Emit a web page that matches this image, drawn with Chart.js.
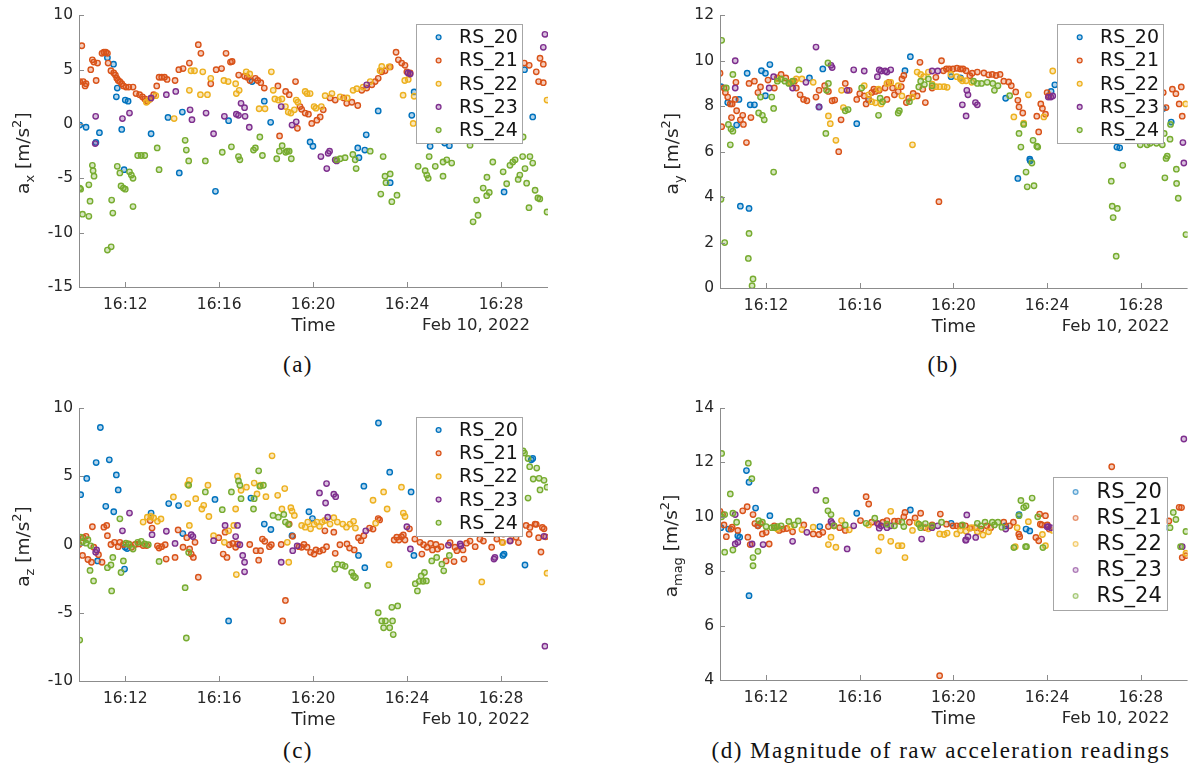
<!DOCTYPE html>
<html>
<head>
<meta charset="utf-8">
<script src="https://cdn.jsdelivr.net/npm/chart.js@4/dist/chart.umd.min.js"></script>
<style>
  body { margin: 0; background: #fff; width: 1193px; height: 776px; position: relative; overflow: hidden; }
  canvas { position: absolute; }
  .cap { position: absolute; font-family: "Liberation Serif", serif; font-size: 23px; letter-spacing: 1.45px;
         color: #111; transform: translate(-50%, -50%); white-space: nowrap; }
</style>
</head>
<body>
<canvas id="pa" width="590" height="340" style="left:0;top:0"></canvas>
<canvas id="pb" width="593" height="340" style="left:600px;top:0"></canvas>
<canvas id="pc" width="590" height="340" style="left:0;top:390px"></canvas>
<canvas id="pd" width="593" height="340" style="left:600px;top:390px"></canvas>
<div class="cap" style="left:298px;top:365px">(a)</div>
<div class="cap" style="left:943px;top:365px">(b)</div>
<div class="cap" style="left:298px;top:751px">(c)</div>
<div class="cap" style="left:941px;top:751px">(d) Magnitude of raw acceleration readings</div>

<script>
// sensors and MATLAB default colour order
const SENSORS = ['RS_20', 'RS_21', 'RS_22', 'RS_23', 'RS_24'];
const COLORS = ['#0072BD', '#D95319', '#EDB120', '#7E2F8E', '#77AC30'];

// time axis in minutes after 16:00 on Feb 10, 2022
const T_MIN = 10.03, T_MAX = 30.0;
const TIME_TICKS = [12, 16, 20, 24, 28];

// ---- a_x [m/s^2] : [minute, value] ----
const ax20 = [[10.06,-0.1],[10.33,-0.3],[10.75,-1.7],[10.9,-0.8],[11.24,6.1],[11.5,5.5],[11.62,2.5],[11.66,3.3],[11.85,-0.5],[11.95,-4.2],[12.0,2.2],[12.12,2.1],[13.1,-0.9],[13.82,0.6],[14.3,-4.5],[14.43,1.1],[15.84,-6.2],[16.4,0.3],[17.4,3.9],[17.92,2.1],[18.19,0.15],[19.87,-1.65],[19.99,-2.05],[21.9,-2.2],[21.95,-3.1],[22.2,-2.4],[22.26,-1.0],[22.77,1.2],[23.28,-5.4],[24.2,0.8],[24.3,2.95],[24.98,-2.05],[25.6,-1.75],[25.8,-2.0],[28.13,-6.25],[29.0,5.0],[29.35,0.65]];
const ax21 = [[10.06,3.9],[10.15,7.2],[10.21,3.9],[10.29,3.5],[10.33,3.7],[10.53,5.0],[10.6,5.9],[10.66,5.7],[10.76,4.0],[10.82,5.6],[11.01,6.5],[11.09,6.6],[11.17,6.6],[11.24,6.5],[11.27,5.6],[11.39,4.9],[11.51,4.7],[11.58,4.5],[11.64,4.2],[11.7,4.0],[11.77,3.9],[11.85,3.7],[11.92,3.5],[12.03,3.4],[12.15,3.4],[12.33,3.4],[12.46,2.8],[12.61,2.7],[12.73,2.5],[12.83,2.3],[12.94,2.1],[13.06,2.3],[13.21,2.7],[13.34,3.5],[13.44,4.3],[13.55,4.3],[13.67,4.3],[13.78,4.1],[14.12,4.0],[14.28,5.0],[14.46,5.1],[14.73,5.6],[15.11,7.3],[15.22,6.5],[15.64,3.7],[15.87,5.0],[16.1,5.1],[16.29,6.5],[16.48,5.7],[16.55,5.75],[16.83,4.5],[17.08,4.4],[17.19,4.3],[17.31,4.0],[17.54,4.2],[17.64,4.0],[17.77,3.8],[17.92,3.3],[18.5,3.5],[18.57,-1.1],[18.83,3.0],[18.98,2.7],[19.25,3.9],[19.33,-0.4],[19.44,1.6],[19.51,1.35],[19.66,1.0],[19.8,0.9],[19.94,0.05],[20.16,0.35],[20.3,0.65],[20.43,1.3],[20.72,2.4],[20.94,2.2],[21.3,2.4],[21.43,1.9],[21.65,2.0],[21.9,1.7],[22.07,3.1],[22.28,3.3],[22.5,3.6],[22.64,3.9],[22.77,4.2],[22.92,4.8],[23.06,4.9],[23.28,5.25],[23.53,6.6],[23.63,5.9],[23.77,5.6],[23.91,5.4],[23.99,4.8],[24.13,4.7],[24.6,5.2],[25.3,5.5],[26.1,5.9],[27.0,6.1],[27.9,5.6],[28.99,5.6],[29.2,5.4],[29.5,4.8],[29.6,3.9],[29.66,6.05],[29.8,3.8],[29.8,5.5]];
const ax22 = [[12.9,2.0],[13.0,2.2],[13.3,2.6],[14.08,0.5],[14.73,3.1],[14.8,4.9],[14.95,4.9],[15.2,2.7],[15.3,4.8],[15.5,2.7],[15.64,4.2],[16.2,4.0],[16.38,3.9],[16.7,3.7],[16.73,2.8],[16.85,3.1],[17.15,4.8],[17.3,4.6],[17.7,1.4],[17.95,1.4],[18.22,4.8],[18.3,3.1],[18.37,2.3],[18.52,2.2],[18.67,2.3],[18.82,1.6],[18.94,1.1],[19.05,1.0],[19.2,1.3],[19.28,2.2],[19.35,2.0],[19.66,3.0],[19.74,2.8],[19.87,2.8],[20.04,1.6],[20.12,1.45],[20.35,1.6],[20.51,2.6],[20.8,2.8],[21.15,2.5],[21.45,2.4],[21.7,3.1],[21.86,3.25],[22.13,3.4],[22.43,3.9],[22.85,4.9],[22.92,5.3],[23.23,5.25],[23.83,2.65],[23.9,4.0],[24.05,4.1],[24.26,0.05],[24.3,2.55],[29.96,2.2]];
const ax23 = [[10.72,-1.8],[10.74,0.7],[11.88,0.5],[12.18,1.0],[13.1,2.4],[13.75,2.7],[14.15,3.0],[14.76,1.3],[14.84,0.4],[15.44,1.0],[15.76,-0.9],[16.22,0.7],[16.73,0.9],[16.82,0.8],[16.93,1.9],[17.08,1.5],[17.1,0.7],[17.28,-0.3],[18.64,1.6],[19.1,-0.1],[19.28,0.2],[20.33,-3.0],[20.58,-4.1],[20.64,-2.7],[20.7,-2.5],[20.94,-3.3],[21.0,-3.4],[22.28,3.6],[24.04,4.7],[24.13,4.6],[29.8,7.05],[29.87,8.25]];
const ax24 = [[10.06,-5.9],[10.1,-6.0],[10.18,-8.3],[10.45,-8.5],[10.45,-5.6],[10.5,-7.1],[10.6,-3.8],[10.63,-4.3],[10.67,-4.8],[11.24,-11.6],[11.4,-11.3],[11.42,-7.0],[11.47,-8.2],[11.66,-3.9],[11.77,-4.5],[11.82,-5.7],[11.92,-5.9],[12.0,-6.0],[12.18,-4.4],[12.26,-4.7],[12.33,-5.0],[12.33,-7.6],[12.53,-2.9],[12.68,-2.9],[12.83,-2.9],[13.36,-2.2],[13.44,-4.2],[14.55,-1.5],[14.6,-2.4],[14.7,-3.4],[15.41,-3.4],[16.13,-2.6],[16.52,-2.1],[16.82,-3.0],[16.88,-3.3],[17.46,-2.4],[17.54,-2.2],[17.73,-1.2],[17.84,-2.9],[18.45,-3.2],[18.56,-2.5],[18.68,-2.0],[18.83,-2.6],[18.9,-2.5],[18.98,-2.5],[19.07,-3.2],[21.0,-3.3],[21.15,-3.2],[21.36,-3.1],[21.69,-2.8],[21.79,-3.3],[21.83,-4.1],[22.43,-2.5],[22.88,-6.45],[22.98,-3.0],[23.06,-4.8],[23.1,-5.4],[23.28,-4.6],[23.35,-7.15],[23.57,-6.55],[24.47,-3.9],[24.77,-4.3],[24.84,-4.7],[24.9,-5.0],[24.94,-3.0],[25.2,-3.9],[25.53,-3.5],[25.53,-4.8],[25.69,-3.3],[25.9,-3.6],[26.68,-1.95],[26.81,-9.0],[26.96,-7.0],[27.02,-8.4],[27.24,-5.9],[27.39,-6.6],[27.4,-4.9],[27.5,-6.3],[27.65,-3.5],[28.09,-4.4],[28.24,-5.5],[28.38,-3.8],[28.5,-3.5],[28.6,-3.3],[28.73,-5.1],[28.8,-4.7],[28.92,-3.0],[28.94,-1.2],[29.02,-4.1],[29.09,-5.45],[29.19,-7.7],[29.23,-3.0],[29.35,-3.6],[29.45,-6.1],[29.57,-6.8],[29.65,-6.9],[29.96,-8.1]];

// ---- a_y [m/s^2] ----
const ay20 = [[10.07,8.86],[10.36,8.16],[10.74,7.17],[10.84,8.3],[10.9,3.6],[11.19,9.45],[11.27,3.5],[11.32,8.06],[11.5,8.06],[11.8,9.56],[11.97,8.46],[11.97,9.45],[12.16,9.83],[13.85,9.24],[14.26,7.97],[14.42,9.64],[15.87,7.23],[16.38,8.27],[17.93,9.56],[18.16,10.18],[19.9,9.3],[20.3,9.25],[22.23,8.35],[22.75,4.82],[23.26,5.67],[23.28,5.6],[24.17,8.65],[24.33,8.94],[26.98,6.2],[27.1,6.17],[28.96,7.9],[29.3,7.3]];
const ay21 = [[10.03,9.45],[10.1,7.1],[10.2,8.8],[10.26,8.6],[10.36,8.4],[10.47,8.1],[10.52,7.5],[10.55,8.1],[10.68,8.3],[10.71,9.05],[10.74,7.8],[10.9,7.4],[11.0,7.6],[11.03,7.2],[11.16,6.4],[11.27,9.0],[11.35,7.5],[11.5,9.1],[11.65,8.6],[11.76,8.85],[12.08,9.15],[12.35,8.8],[12.48,9.24],[12.64,9.4],[12.84,9.24],[13.05,9.0],[13.21,9.1],[13.29,8.8],[13.45,8.5],[13.6,8.3],[13.74,8.24],[14.13,8.4],[14.26,8.7],[14.5,8.9],[14.66,8.65],[14.82,8.24],[14.93,8.27],[15.1,6.0],[15.2,7.4],[15.38,9.0],[15.55,8.7],[15.87,8.3],[16.0,8.55],[16.19,8.45],[16.27,8.1],[16.38,8.3],[16.51,8.6],[16.6,8.75],[16.67,8.65],[16.83,8.7],[17.08,8.8],[17.16,8.3],[17.24,9.05],[17.4,8.8],[17.48,8.5],[17.64,8.65],[17.77,8.86],[17.8,9.2],[17.88,9.35],[17.99,8.16],[18.09,8.35],[18.28,8.56],[18.45,8.45],[18.57,9.93],[18.69,8.75],[18.8,8.16],[19.09,8.8],[19.25,9.27],[19.38,3.8],[19.49,10.0],[19.57,9.56],[19.7,9.64],[19.82,9.64],[19.98,9.64],[20.15,9.67],[20.3,9.64],[20.41,9.64],[20.54,9.56],[20.7,9.34],[20.8,9.45],[21.02,9.5],[21.3,9.46],[21.5,9.38],[21.66,9.4],[21.82,9.35],[21.99,9.4],[22.15,9.1],[22.36,9.07],[22.47,8.9],[22.66,8.63],[22.75,8.26],[22.8,7.97],[22.96,7.7],[23.56,7.56],[23.64,6.87],[23.73,8.1],[23.8,7.9],[23.93,7.65],[24.0,8.6],[24.08,8.46],[24.6,8.9],[25.3,8.7],[26.2,8.8],[27.4,8.5],[28.2,8.6],[28.96,8.6],[29.08,7.94],[29.35,8.75],[29.5,8.55],[29.64,8.1],[29.73,8.85],[29.77,7.56]];
const ay22 = [[12.5,9.2],[13.05,9.05],[13.29,9.2],[13.53,9.2],[14.01,9.05],[14.66,7.57],[14.74,7.23],[14.98,6.5],[15.22,8.7],[15.3,7.94],[16.19,8.9],[16.38,8.5],[16.51,8.2],[16.67,8.15],[16.8,8.75],[16.91,8.1],[17.16,9.0],[17.32,9.05],[17.64,8.9],[17.8,8.45],[18.25,6.3],[18.25,8.4],[18.45,9.5],[18.6,9.4],[18.73,9.3],[18.93,9.5],[19.09,8.97],[19.25,8.86],[19.41,8.86],[19.6,8.86],[19.73,8.83],[19.89,9.4],[20.14,9.3],[20.3,9.2],[20.38,9.12],[20.54,9.12],[20.78,9.05],[22.58,7.53],[23.0,7.25],[23.2,8.5],[23.86,7.53],[24.24,9.55],[29.92,8.1]];
const ay23 = [[10.68,10.0],[10.68,8.8],[12.13,8.8],[12.32,9.3],[13.13,8.8],[13.7,9.05],[14.13,10.6],[14.26,7.97],[14.77,9.8],[14.82,9.7],[15.46,8.7],[15.74,9.6],[16.19,9.55],[16.75,9.3],[16.83,9.6],[16.91,9.55],[17.08,9.55],[17.16,9.5],[17.32,9.6],[19.09,9.55],[19.33,9.55],[20.38,8.06],[20.54,7.57],[20.57,8.7],[20.62,8.5],[20.94,8.16],[21.02,8.06],[24.05,8.4],[24.16,8.4],[24.24,8.45],[29.8,6.4],[29.84,5.5]];
const ay24 = [[10.07,3.9],[10.1,10.9],[10.23,2.0],[10.3,8.8],[10.39,7.2],[10.47,6.3],[10.5,7.0],[10.58,6.9],[10.58,9.4],[11.24,1.3],[11.27,2.4],[11.4,0.1],[11.44,0.4],[11.68,7.7],[11.76,8.4],[11.84,7.6],[11.92,7.4],[12.24,8.4],[12.32,7.9],[12.32,5.1],[12.48,9.1],[12.64,9.2],[12.8,9.1],[12.97,9.0],[13.13,9.1],[13.4,9.6],[14.55,6.8],[14.58,8.7],[14.64,9.9],[14.66,9.0],[15.38,7.8],[15.5,7.85],[16.08,8.8],[16.8,7.6],[16.87,8.35],[16.97,8.2],[17.64,7.7],[17.69,7.8],[18.12,8.2],[18.52,8.85],[18.6,9.1],[18.76,8.95],[18.93,9.2],[19.09,8.9],[20.86,9.1],[21.02,9.0],[21.2,9.0],[21.44,9.05],[21.68,9.0],[21.75,8.7],[21.9,8.9],[22.4,8.46],[22.8,6.8],[22.88,6.2],[23.0,7.2],[23.1,5.1],[23.15,4.45],[23.35,5.5],[23.4,6.5],[23.44,4.5],[23.56,6.24],[23.6,6.2],[26.74,4.7],[26.78,3.6],[26.82,3.1],[26.95,1.4],[27.0,3.5],[27.23,5.4],[27.98,6.3],[28.27,6.3],[28.4,6.37],[28.67,6.37],[28.92,6.3],[29.0,6.8],[29.03,4.85],[29.08,5.7],[29.13,5.8],[29.25,6.55],[29.27,7.2],[29.52,5.23],[29.53,4.6],[29.6,3.95],[29.93,2.35]];

// ---- a_z [m/s^2] ----
const az20 = [[10.1,3.65],[10.36,4.84],[10.76,6.0],[10.82,-1.2],[10.94,8.57],[11.17,2.8],[11.32,6.2],[11.51,2.4],[11.62,5.1],[11.7,4.0],[11.97,-1.8],[12.0,-0.2],[12.08,-0.3],[13.1,2.3],[13.85,3.0],[14.27,2.85],[14.45,0.8],[15.82,3.3],[16.4,-5.6],[17.35,3.4],[17.92,1.5],[18.2,1.1],[19.1,0.65],[19.82,2.4],[19.97,1.9],[21.93,-0.8],[22.16,4.27],[22.2,-1.7],[22.78,8.9],[23.26,5.3],[24.17,3.85],[24.29,-0.8],[28.08,-0.8],[28.13,-0.7],[29.02,-1.5],[29.29,6.2],[29.35,6.3]];
const az21 = [[10.03,0],[10.18,-0.8],[10.21,0.5],[10.33,0.6],[10.41,-1.1],[10.56,-1.3],[10.6,1.3],[10.66,-0.2],[10.86,-0.75],[11.01,-1.3],[11.09,1.27],[11.21,1.4],[11.24,0.65],[11.39,0],[11.54,0.16],[11.7,-0.16],[11.77,0.16],[11.92,0],[12.15,0.04],[12.27,-0.2],[12.42,0],[12.57,0.04],[12.76,-0.08],[12.91,-0.08],[13.06,1.76],[13.14,1.2],[13.37,-0.1],[13.44,-0.26],[13.55,-0.16],[13.7,-0.02],[13.74,-1.07],[14.12,-0.95],[14.25,1.07],[14.46,-0.2],[14.62,0.5],[14.74,-0.33],[14.81,-0.7],[14.9,-0.95],[14.97,0.16],[15.11,-2.4],[15.98,0.5],[16.17,-0.7],[16.25,0.9],[16.33,-0.95],[16.43,-0.02],[16.58,0.08],[16.7,-0.2],[16.78,0.04],[17.3,0],[17.57,-0.45],[17.68,-1.15],[17.76,-0.45],[17.84,0.4],[17.94,0.23],[18.14,-0.16],[18.22,-0.02],[18.64,0],[18.7,-5.6],[18.82,-4.1],[18.98,1.5],[19.13,0.6],[19.4,-0.16],[19.51,-0.2],[19.61,0],[19.74,-0.2],[19.89,-0.57],[20.04,-0.7],[20.12,-0.4],[20.27,-0.5],[20.42,-0.4],[20.5,1.0],[20.57,-0.16],[20.88,0.9],[20.94,-0.65],[21.14,-0.02],[21.44,0.04],[21.55,-0.26],[21.75,-0.4],[21.93,0.5],[22.04,0.28],[22.16,0.65],[22.4,1.2],[22.55,1.13],[22.77,1.9],[22.83,1.8],[23.45,0.33],[23.56,0.53],[23.65,0.33],[23.76,0.57],[23.84,0.7],[23.91,0.33],[24.1,1.15],[24.33,0.4],[24.55,0.16],[24.63,-0.7],[24.7,-0.02],[24.85,-0.2],[25.0,0.08],[25.08,-0.4],[25.23,0.0],[25.3,-0.33],[25.45,-0.16],[25.66,-1.2],[25.83,0.14],[26.0,-1.25],[26.04,-0.2],[26.12,-0.45],[26.38,-0.4],[26.42,-1.07],[26.53,0.1],[26.68,0.25],[26.9,-0.16],[27.1,0.4],[27.25,0.25],[27.6,-0.2],[27.82,0.4],[28.05,0.16],[28.1,0.77],[28.4,0.28],[28.64,0.53],[28.74,0.14],[29.07,1.4],[29.2,0.75],[29.23,1.25],[29.45,1.5],[29.5,1.48],[29.6,0.5],[29.7,-0.55],[29.76,1.25],[29.83,1.15],[29.9,0.56]];
const az22 = [[12.76,1.64],[12.94,2.0],[13.09,2.05],[13.21,1.95],[13.37,1.7],[13.52,1.87],[14.05,3.48],[14.66,4.4],[14.66,3.0],[14.73,4.7],[14.73,1.4],[15.0,3.36],[15.26,2.6],[15.34,2.87],[15.52,4.34],[15.56,2.05],[15.76,0.65],[16.22,0.16],[16.4,1.0],[16.62,1.4],[16.7,2.6],[16.73,-2.2],[16.78,5.0],[16.93,3.97],[17.16,4.2],[17.49,4.5],[17.61,3.7],[17.76,4.34],[17.99,3.5],[18.25,6.5],[18.49,3.6],[18.67,2.6],[18.79,4.1],[18.9,0.16],[18.96,-1.3],[19.05,2.7],[19.1,2.45],[19.2,2.13],[19.51,1.4],[19.66,1.27],[19.77,1.64],[19.89,1.15],[20.04,1.48],[20.16,1.64],[20.27,1.33],[20.38,1.64],[20.5,1.76],[20.72,1.5],[20.88,1.96],[21.03,1.64],[21.26,1.5],[21.42,1.27],[21.57,1.5],[21.72,1.7],[21.8,1.2],[22.55,3.24],[22.66,1.56],[23.0,3.85],[23.15,2.6],[23.23,-1.48],[23.76,4.2],[23.84,2.3],[23.91,2.05],[27.18,-2.74],[28.08,0.14],[29.96,-2.1]];
const az23 = [[10.74,-0.57],[10.78,-0.4],[11.88,1.0],[12.18,2.3],[13.14,0.72],[13.75,0.97],[14.12,0.08],[14.81,0.72],[14.88,0.58],[15.76,0.28],[16.25,1.4],[16.7,0.58],[16.78,1.4],[16.88,-0.02],[17.0,-0.8],[17.08,-1.3],[17.08,-2.0],[18.64,-1.3],[19.13,-0.45],[19.32,-0.1],[20.27,3.78],[20.53,3.04],[20.57,4.46],[20.62,2.0],[20.88,3.68],[20.96,3.5],[22.24,1.0],[23.99,1.3],[24.14,-0.33],[25.76,-0.05],[26.26,0.04],[26.29,-0.1],[27.7,-1.07],[27.74,-0.95],[28.38,0.25],[29.83,0.6],[29.87,-7.45]];
const az24 = [[10.06,-7.0],[10.1,0.53],[10.18,0.2],[10.33,0.1],[10.41,0.35],[10.53,-0.1],[10.5,-1.9],[10.65,-2.67],[11.24,-1.7],[11.39,-1.5],[11.47,-0.95],[11.42,-3.4],[11.77,1.88],[11.82,-2.05],[11.92,-1.2],[12.03,0.1],[12.15,0.0],[12.33,-0.33],[12.53,0.16],[12.68,0.23],[12.83,0.04],[12.98,-0.02],[13.44,-1.24],[14.55,-3.16],[14.6,-6.85],[14.7,-0.58],[14.7,4.34],[15.41,3.85],[16.13,2.55],[16.52,3.85],[16.82,4.66],[16.88,4.34],[16.93,3.36],[17.46,2.6],[17.49,3.36],[17.68,5.4],[17.73,4.27],[17.88,4.34],[18.29,2.13],[18.52,2.0],[18.75,2.2],[18.82,1.64],[18.95,1.46],[20.92,-1.8],[21.03,-1.45],[21.24,-1.5],[21.36,-1.6],[21.64,-2.05],[21.72,-2.3],[21.8,-2.42],[22.32,-3.0],[22.77,-5.0],[22.92,-5.6],[23.0,-6.1],[23.08,-5.6],[23.26,-6.1],[23.35,-4.6],[23.38,-5.6],[23.41,-6.6],[23.6,-4.5],[24.35,-2.87],[24.44,-3.4],[24.52,-2.7],[24.6,-2.3],[24.68,-2.7],[24.74,-2.05],[24.82,-2.67],[25.05,-1.2],[25.26,-0.95],[25.48,-1.44],[25.56,-1.93],[25.8,-0.8],[28.94,6.85],[29.0,6.7],[29.15,6.3],[29.15,3.4],[29.22,5.7],[29.37,4.8],[29.52,5.6],[29.62,4.85],[29.66,4.0],[29.83,4.7],[29.96,4.2]];

// ---- a_mag [m/s^2] ----
const amag20 = [[10.07,9.6],[10.4,9.55],[10.79,9.3],[10.87,9.25],[11.16,11.7],[11.27,11.27],[11.27,7.1],[11.55,10.32],[11.65,9.67],[12.16,10.04],[14.29,9.64],[15.87,10.13],[18.16,10.25],[19.9,9.76],[22.23,9.67],[22.8,10.08],[23.1,9.55],[23.26,9.48],[29.0,9.6]];
const amag21 = [[10.03,10.2],[10.14,10.08],[10.2,9.7],[10.3,9.27],[10.5,9.55],[10.55,9.62],[10.79,9.5],[11.0,10.22],[11.19,10.37],[11.22,9.25],[11.32,8.98],[11.44,10.08],[11.52,9.75],[11.65,9.67],[11.76,9.75],[11.84,9.37],[12.0,9.43],[12.13,9.0],[12.35,9.67],[12.56,9.5],[12.72,9.55],[12.88,9.57],[13.13,9.45],[13.61,9.7],[14.01,9.37],[14.26,9.35],[14.42,9.43],[14.66,9.64],[14.9,9.67],[15.14,9.6],[15.38,9.5],[16.03,9.86],[16.27,10.74],[16.38,10.47],[16.51,9.8],[16.8,9.73],[16.99,9.8],[17.16,9.86],[17.48,9.84],[17.64,9.84],[17.88,10.0],[17.93,10.16],[18.12,9.8],[18.36,9.96],[18.6,10.13],[18.8,9.6],[19.09,9.7],[19.41,4.16],[19.44,10.1],[19.7,9.73],[19.98,9.67],[20.14,9.67],[20.3,9.67],[20.51,9.67],[20.7,9.58],[20.94,9.6],[21.18,9.55],[21.42,9.67],[21.59,9.6],[22.15,9.8],[22.4,9.67],[22.56,9.8],[22.79,9.36],[22.83,9.27],[23.52,9.24],[23.64,9.12],[23.68,10.1],[23.71,9.73],[23.78,9.7],[23.93,10.04],[24.01,9.7],[24.09,9.55],[26.76,11.84],[28.9,9.65],[29.2,9.85],[29.64,10.35],[29.74,10.34],[29.77,8.5],[29.93,8.57]];
const amag22 = [[12.48,9.55],[13.05,9.65],[13.53,9.53],[14.01,9.62],[14.66,8.98],[14.77,9.25],[14.98,8.88],[15.22,9.86],[15.55,9.52],[16.38,9.7],[16.8,8.75],[16.91,9.25],[17.32,10.2],[17.32,9.1],[17.64,8.94],[17.8,8.94],[17.93,8.5],[18.25,9.5],[18.45,9.77],[18.6,9.68],[18.93,9.56],[19.09,9.62],[19.41,9.37],[19.6,9.35],[19.73,9.4],[20.14,9.37],[20.3,9.5],[20.54,9.47],[20.78,9.6],[21.02,9.45],[21.26,9.33],[21.5,9.45],[22.64,8.9],[22.72,9.6],[23.2,9.82],[23.8,9.35],[23.93,8.94],[24.24,9.5],[29.93,8.66]];
const amag23 = [[10.68,10.08],[10.68,9.0],[10.79,9.06],[11.4,9.0],[11.87,8.98],[13.13,9.1],[13.74,9.43],[14.13,10.98],[14.77,9.83],[14.82,9.76],[15.46,8.82],[15.74,9.67],[16.75,9.76],[16.83,9.58],[16.91,9.67],[17.16,9.6],[17.32,9.67],[18.64,9.18],[19.09,9.6],[19.33,9.67],[20.52,9.14],[20.54,9.15],[20.57,10.07],[20.62,9.27],[20.95,9.24],[22.23,9.55],[24.0,9.63],[24.05,9.64],[24.16,9.6],[29.77,8.9],[29.84,12.86]];
const amag24 = [[10.1,12.33],[10.1,10.0],[10.23,8.7],[10.23,10.08],[10.47,10.84],[10.58,8.78],[10.58,10.13],[10.74,9.8],[11.24,11.97],[11.39,11.4],[11.44,8.2],[11.44,8.5],[11.65,8.73],[11.68,9.86],[11.84,9.8],[12.0,9.64],[12.24,9.6],[12.35,9.6],[12.48,9.64],[12.64,9.67],[12.97,9.83],[13.21,9.7],[13.37,9.85],[14.55,10.6],[14.64,10.22],[14.77,10.08],[14.9,9.67],[15.38,9.7],[16.27,9.76],[16.64,9.95],[17.16,9.73],[17.48,9.67],[17.8,9.8],[17.88,9.64],[18.52,9.73],[18.6,9.6],[18.8,9.75],[19.09,9.67],[19.49,9.8],[20.38,9.7],[21.02,9.76],[21.18,9.67],[21.35,9.8],[21.66,9.8],[21.75,9.7],[21.9,9.8],[22.07,9.62],[22.58,8.87],[22.8,10.04],[22.88,10.6],[23.0,10.34],[23.08,8.9],[23.1,10.4],[23.12,8.9],[23.36,10.69],[23.6,10.0],[23.82,8.87],[29.25,9.6],[29.39,10.16],[29.5,9.9],[29.7,8.9],[29.93,9.46]];

const FONT = 'DejaVu Sans';
const INK = '#262626';
const AXIS = '#8c8c8c';

function fade(hex, a) {
  const n = parseInt(hex.slice(1), 16);
  return `rgba(${n >> 16},${(n >> 8) & 255},${n & 255},${a})`;
}

// axis lines, inward ticks, axis titles and the in-plot legend
const decor = {
  id: 'decor',
  afterDatasetsDraw(chart, args, o) {
    const { ctx, chartArea: a, scales: { x, y } } = chart;
    ctx.save();
    ctx.strokeStyle = AXIS;
    ctx.lineWidth = 1;
    ctx.beginPath();
    ctx.moveTo(a.left + 0.5, a.top);
    ctx.lineTo(a.left + 0.5, a.bottom + 0.5);
    ctx.lineTo(a.right, a.bottom + 0.5);
    x.ticks.forEach(t => {
      const px = Math.round(x.getPixelForValue(t.value)) + 0.5;
      ctx.moveTo(px, a.bottom); ctx.lineTo(px, a.bottom - 5);
    });
    y.ticks.forEach(t => {
      const py = Math.round(y.getPixelForValue(t.value)) + 0.5;
      ctx.moveTo(a.left, py); ctx.lineTo(a.left + 5, py);
    });
    ctx.stroke();

    // x title and date
    ctx.fillStyle = INK;
    ctx.textBaseline = 'middle';
    ctx.font = `18px "${FONT}"`;
    ctx.textAlign = 'center';
    ctx.fillText('Time', (a.left + a.right) / 2, a.bottom + 39);
    ctx.font = `16.5px "${FONT}"`;
    ctx.textAlign = 'right';
    ctx.fillText('Feb 10, 2022', a.right - 18, a.bottom + 39);

    // y title: a_<sub> [m/s^2]
    const big = 18.5, small = 13;
    const parts = [
      { t: 'a', f: big, dy: 0 },
      { t: o.sub, f: small, dy: 5 },
      { t: ' [m/s', f: big, dy: 0 },
      { t: '2', f: small, dy: -8 },
      { t: ']', f: big, dy: 0 }
    ];
    let total = 0;
    parts.forEach(p => { ctx.font = `${p.f}px "${FONT}"`; p.w = ctx.measureText(p.t).width; total += p.w; });
    ctx.translate(a.left + o.titleDx, (a.top + a.bottom) / 2 + 2);
    ctx.rotate(-Math.PI / 2);
    ctx.textAlign = 'left';
    ctx.textBaseline = 'alphabetic';
    let cx = -total / 2;
    parts.forEach(p => {
      ctx.font = `${p.f}px "${FONT}"`;
      ctx.fillText(p.t, cx, 6 + p.dy);
      cx += p.w;
    });
    ctx.setTransform(1, 0, 0, 1, 0, 0);

    // legend box
    const L = o.legend;
    const bx = a.right - L.right - L.w, by = a.top + L.top;
    ctx.fillStyle = '#fff';
    ctx.fillRect(bx, by, L.w, L.h);
    ctx.strokeStyle = '#a6a6a6';
    ctx.strokeRect(Math.round(bx) + 0.5, Math.round(by) + 0.5, L.w, L.h);
    ctx.font = `${L.font}px "${FONT}"`;
    ctx.textAlign = 'left';
    ctx.textBaseline = 'middle';
    SENSORS.forEach((name, i) => {
      const ry = by + L.row0 + i * L.step;
      ctx.globalAlpha = L.alpha;
      ctx.beginPath();
      ctx.arc(bx + L.mx, ry, 2.4, 0, Math.PI * 2);
      ctx.fillStyle = fade(COLORS[i], 0.3);
      ctx.fill();
      ctx.lineWidth = 1.3;
      ctx.strokeStyle = COLORS[i];
      ctx.stroke();
      ctx.globalAlpha = 1;
      ctx.fillStyle = '#151515';
      ctx.fillText(name, bx + L.tx, ry + 1);
    });
    ctx.restore();
  }
};

const LEG_SMALL = { right: 26, top: 9, w: 106, h: 119, font: 19, row0: 13, step: 23.2, mx: 22.6, tx: 43, alpha: 1 };
const LEG_LARGE = { right: 21, top: 69, w: 114, h: 133, font: 21, row0: 15, step: 26, mx: 23, tx: 44, alpha: 0.6 };

const PANELS = [
  { id: 'pa', sub: 'x', series: [ax20, ax21, ax22, ax23, ax24], yMin: -15, yMax: 10, yStep: 5,
    yW: 79, xH: 53, padTop: 15, padRight: 42, titleDx: -56, legend: LEG_SMALL },
  { id: 'pb', sub: 'y', series: [ay20, ay21, ay22, ay23, ay24], yMin: 0, yMax: 12, yStep: 2,
    yW: 120, xH: 52, padTop: 15, padRight: 5, titleDx: -48, legend: Object.assign({}, LEG_SMALL, { right: 24.5 }) },
  { id: 'pc', sub: 'z', series: [az20, az21, az22, az23, az24], yMin: -10, yMax: 10, yStep: 5,
    yW: 79, xH: 49, padTop: 18, padRight: 42, titleDx: -56, legend: LEG_SMALL },
  { id: 'pd', sub: 'mag', series: [amag20, amag21, amag22, amag23, amag24], yMin: 4, yMax: 14, yStep: 2,
    yW: 120, xH: 50, padTop: 18, padRight: 5, titleDx: -49, legend: LEG_LARGE }
];

const tickFont = { family: FONT, size: 15.5 };

PANELS.forEach(p => {
  new Chart(document.getElementById(p.id), {
    type: 'scatter',
    data: {
      datasets: p.series.map((s, i) => ({
        label: SENSORS[i],
        data: s.map(d => ({ x: d[0], y: d[1] })),
        order: SENSORS.length - i,
        pointRadius: 2.7,
        pointBorderWidth: 1.4,
        pointBorderColor: COLORS[i],
        pointBackgroundColor: fade(COLORS[i], 0.3)
      }))
    },
    options: {
      responsive: false,
      animation: false,
      events: [],
      layout: { padding: { left: 0, top: p.padTop, right: p.padRight, bottom: 0 } },
      plugins: {
        legend: { display: false },
        tooltip: { enabled: false },
        decor: { sub: p.sub, titleDx: p.titleDx, legend: p.legend }
      },
      scales: {
        x: {
          type: 'linear', min: T_MIN, max: T_MAX,
          grid: { display: false, drawTicks: false },
          border: { display: false },
          afterBuildTicks: s => { s.ticks = TIME_TICKS.map(v => ({ value: v })); },
          afterFit: s => { s.height = p.xH; },
          ticks: { font: tickFont, color: INK, padding: 9, maxRotation: 0, autoSkip: false,
                   callback: v => '16:' + String(v).padStart(2, '0') }
        },
        y: {
          min: p.yMin, max: p.yMax,
          grid: { display: false, drawTicks: false },
          border: { display: false },
          afterFit: s => { s.width = p.yW; },
          ticks: { stepSize: p.yStep, font: tickFont, color: INK, padding: 6 }
        }
      }
    },
    plugins: [decor]
  });
});
</script>
</body>
</html>
